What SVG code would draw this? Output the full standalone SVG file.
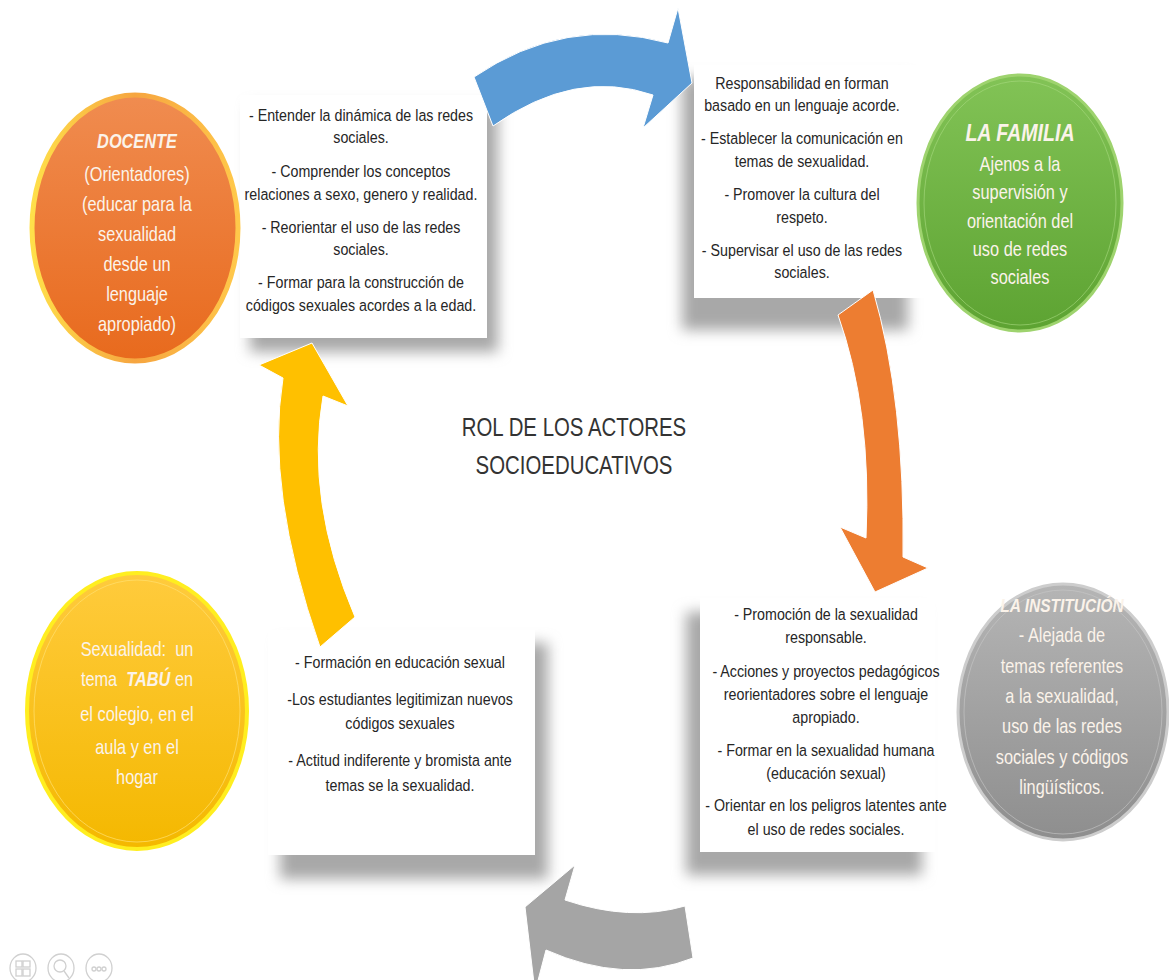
<svg xmlns="http://www.w3.org/2000/svg" width="1169" height="980" viewBox="0 0 1169 980">
<style>
.bt{font-family:"Liberation Sans",sans-serif;font-size:16.5px;fill:#262626;text-anchor:middle}
.ct{font-family:"Liberation Sans",sans-serif;font-size:20px;fill:#FBF3EA;text-anchor:middle}
.hd{font-weight:bold;font-style:italic}
.title{font-family:"Liberation Sans",sans-serif;font-size:26px;fill:#333;text-anchor:middle}
.box{fill:#fff}
.shadow{fill:#a8a8a8;filter:url(#blur)}
.icon{fill:none;stroke:#d0d0d0;stroke-width:1.3}
</style>
<defs>
<filter id="blur" x="-20%" y="-20%" width="140%" height="140%"><feGaussianBlur stdDeviation="7"/></filter>
<linearGradient id="gOr" x1="0" y1="0" x2="0" y2="1"><stop offset="0" stop-color="#F08C50"/><stop offset="1" stop-color="#E86A1D"/></linearGradient>
<linearGradient id="gOrR" x1="0" y1="0" x2="1" y2="0"><stop offset="0" stop-color="#FFE04A"/><stop offset="0.5" stop-color="#F6A540"/><stop offset="1" stop-color="#FFC84A"/></linearGradient>
<linearGradient id="gGr" x1="0" y1="0" x2="0" y2="1"><stop offset="0" stop-color="#82C356"/><stop offset="1" stop-color="#5DA332"/></linearGradient>
<linearGradient id="gGy" x1="0" y1="0" x2="0" y2="1"><stop offset="0" stop-color="#B5B5B5"/><stop offset="1" stop-color="#8E8E8E"/></linearGradient>
<linearGradient id="gYe" x1="0" y1="0" x2="0" y2="1"><stop offset="0" stop-color="#FFCB3D"/><stop offset="1" stop-color="#F4B800"/></linearGradient>
</defs>
<rect width="1169" height="980" fill="#fff"/>

<g id="box-docente">
<rect class="shadow" x="250" y="106" width="248" height="246"/>
<rect class="box" x="240" y="95" width="247" height="243"/>
<g transform="translate(361,0) scale(0.864,1)">
<text class="bt" x="0" y="121">- Entender la dinámica de las redes</text>
<text class="bt" x="0" y="143">sociales.</text>
<text class="bt" x="0" y="177">- Comprender los conceptos</text>
<text class="bt" x="0" y="200">relaciones a sexo, genero y realidad.</text>
<text class="bt" x="0" y="233">- Reorientar el uso de las redes</text>
<text class="bt" x="0" y="255">sociales.</text>
<text class="bt" x="0" y="288">- Formar para la construcción de</text>
<text class="bt" x="0" y="311">códigos sexuales acordes a la edad.</text>
</g>
</g>

<g id="box-familia">
<rect class="shadow" x="682" y="78" width="226" height="252"/>
<rect class="box" x="694" y="65" width="231" height="233"/>
<g transform="translate(802,0) scale(0.864,1)">
<text class="bt" x="0" y="89">Responsabilidad en forman</text>
<text class="bt" x="0" y="111">basado en un lenguaje acorde.</text>
<text class="bt" x="0" y="144">- Establecer la comunicación en</text>
<text class="bt" x="0" y="167">temas de sexualidad.</text>
<text class="bt" x="0" y="200">- Promover la cultura del</text>
<text class="bt" x="0" y="223">respeto.</text>
<text class="bt" x="0" y="256">- Supervisar el uso de las redes</text>
<text class="bt" x="0" y="278">sociales.</text>
</g>
</g>

<g id="box-institucion">
<rect class="shadow" x="686" y="612" width="236" height="263"/>
<rect class="box" x="700" y="598" width="235" height="254"/>
<g transform="translate(826,0) scale(0.864,1)">
<text class="bt" x="0" y="620">- Promoción de la sexualidad</text>
<text class="bt" x="0" y="643">responsable.</text>
<text class="bt" x="0" y="677">- Acciones y proyectos pedagógicos</text>
<text class="bt" x="0" y="700">reorientadores sobre el lenguaje</text>
<text class="bt" x="0" y="723">apropiado.</text>
<text class="bt" x="0" y="756">- Formar en la sexualidad humana</text>
<text class="bt" x="0" y="779">(educación sexual)</text>
<text class="bt" x="0" y="811">- Orientar en los peligros latentes ante</text>
<text class="bt" x="0" y="835">el uso de redes sociales.</text>
</g>
</g>

<g id="box-estudiantes">
<rect class="shadow" x="280" y="643" width="268" height="236"/>
<rect class="box" x="268" y="630" width="267" height="225"/>
<g transform="translate(400,0) scale(0.864,1)">
<text class="bt" x="0" y="668">- Formación en educación sexual</text>
<text class="bt" x="0" y="705">-Los estudiantes legitimizan nuevos</text>
<text class="bt" x="0" y="729">códigos sexuales</text>
<text class="bt" x="0" y="766">- Actitud indiferente y bromista ante</text>
<text class="bt" x="0" y="791">temas se la sexualidad.</text>
</g>
</g>

<g id="connectors">
<path d="M474,77 Q565,15 668,43 L678,8 L692,83 L643,128 L653,95 Q575,68 493,126 Z" fill="#5B9BD5" stroke="#fff" stroke-width="1"/>
<path d="M873,290 Q905,400 903,557 L928,568 L875,592 L840,527 L866,538 Q872,410 838,315 Z" fill="#ED7D31" stroke="#fff" stroke-width="1"/>
<path d="M693,958 Q625,985 546,950 L535,992 L525,907 L575,865 L565,900 Q630,922 685,906 Z" fill="#A5A5A5" stroke="#fff" stroke-width="1"/>
<path d="M320,647 Q265,490 283,378 L259,365 L312,343 L348,406 L323,396 Q305,500 355,617 Z" fill="#FFC000" stroke="#fff" stroke-width="1"/>
</g>

<g id="docente">
<ellipse cx="135" cy="228" rx="103" ry="133" fill="url(#gOr)" stroke="url(#gOrR)" stroke-width="5"/>
<g transform="translate(137,0) scale(0.817,1)">
<text class="ct hd" x="0" y="148">DOCENTE</text>
<text class="ct" x="0" y="181">(Orientadores)</text>
<text class="ct" x="0" y="211">(educar para la</text>
<text class="ct" x="0" y="241">sexualidad</text>
<text class="ct" x="0" y="271">desde un</text>
<text class="ct" x="0" y="301">lenguaje</text>
<text class="ct" x="0" y="331">apropiado)</text>
</g>
</g>

<g id="familia">
<ellipse cx="1020" cy="203" rx="102" ry="128" fill="url(#gGr)" stroke="#9ED36E" stroke-width="3"/>
<ellipse cx="1020" cy="203" rx="96" ry="122" fill="none" stroke="#A8DA80" stroke-width="1" opacity="0.6"/>
<g transform="translate(1020,0) scale(0.817,1)">
<text class="ct hd" x="0" y="141" style="font-size:24px">LA FAMILIA</text>
<text class="ct" x="0" y="171">Ajenos a la</text>
<text class="ct" x="0" y="199">supervisión y</text>
<text class="ct" x="0" y="228">orientación del</text>
<text class="ct" x="0" y="256">uso de redes</text>
<text class="ct" x="0" y="284">sociales</text>
</g>
</g>

<g id="institucion">
<ellipse cx="1063" cy="712" rx="105" ry="128" fill="url(#gGy)" stroke="#CDCDCD" stroke-width="3"/>
<ellipse cx="1063" cy="712" rx="99" ry="122" fill="none" stroke="#C8C8C8" stroke-width="1" opacity="0.6"/>
<g transform="translate(1062,0) scale(0.817,1)">
<text class="ct hd" x="0" y="612" style="font-size:19px">LA INSTITUCIÓN</text>
<text class="ct" x="0" y="642">- Alejada de</text>
<text class="ct" x="0" y="673">temas referentes</text>
<text class="ct" x="0" y="703">a la sexualidad,</text>
<text class="ct" x="0" y="733">uso de las redes</text>
<text class="ct" x="0" y="764">sociales y códigos</text>
<text class="ct" x="0" y="794">lingüísticos.</text>
</g>
</g>

<g id="estudiantes">
<ellipse cx="137" cy="711" rx="110" ry="138" fill="url(#gYe)" stroke="#FFEE20" stroke-width="4"/>
<ellipse cx="137" cy="711" rx="103" ry="131" fill="none" stroke="#FFE070" stroke-width="1" opacity="0.7"/>
<g transform="translate(137,0) scale(0.817,1)">
<text class="ct" x="0" y="656" xml:space="preserve">Sexualidad:  un</text>
<text class="ct" x="0" y="686" xml:space="preserve">tema  <tspan class="hd">TABÚ</tspan> en</text>
<text class="ct" x="0" y="721">el colegio, en el</text>
<text class="ct" x="0" y="754">aula y en el</text>
<text class="ct" x="0" y="784">hogar</text>
</g>
</g>

<g id="titulo" transform="translate(574,0) scale(0.785,1)">
<text class="title" x="0" y="436">ROL DE LOS ACTORES</text>
<text class="title" x="0" y="474">SOCIOEDUCATIVOS</text>
</g>

<g id="controles">
<ellipse class="icon" cx="23" cy="968" rx="13" ry="14"/>
<rect class="icon" x="16" y="961" width="6" height="6"/>
<rect class="icon" x="16" y="969" width="6" height="7"/>
<rect class="icon" x="23" y="961" width="7" height="6"/>
<rect class="icon" x="23" y="969" width="7" height="7"/>
<ellipse class="icon" cx="61" cy="968" rx="13" ry="14"/>
<circle class="icon" cx="60" cy="966" r="6"/>
<line class="icon" x1="64" y1="971" x2="69" y2="978"/>
<ellipse class="icon" cx="99" cy="968" rx="13" ry="14"/>
<circle class="icon" cx="94" cy="969" r="2"/>
<circle class="icon" cx="99" cy="969" r="2"/>
<circle class="icon" cx="104" cy="969" r="2"/>
</g>
</svg>
